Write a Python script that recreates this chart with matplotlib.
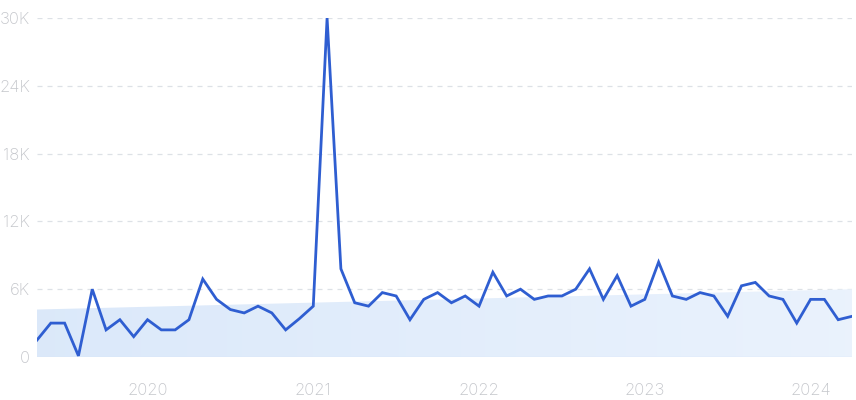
import numpy as np
import matplotlib
matplotlib.use("Agg")
import matplotlib.pyplot as plt
from matplotlib.patches import Polygon

plt.rcParams['font.family'] = ['Inter', 'DejaVu Sans']

# Monthly values, May 2019 .. Apr 2024
months = [f"{y}-{m:02d}" for y in range(2019, 2025) for m in range(1, 13)][4:64]
values = [1500, 3000, 3000, 100, 6000, 2400, 3300, 1800,
          3300, 2400, 2400, 3300, 6900, 5100, 4200, 3900, 4500, 3900, 2400, 3400,
          4500, 30000, 7800, 4800, 4500, 5700, 5400, 3300, 5100, 5700, 4800, 5400,
          4500, 7500, 5400, 6000, 5100, 5400, 5400, 6000, 7800, 5100, 7200, 4500,
          5100, 8400, 5400, 5100, 5700, 5400, 3600, 6300, 6600, 5400, 5100, 3000,
          5100, 5100, 3300, 3600]
trend_start = 4200
trend_end = 6000
year_labels = ["2020", "2021", "2022", "2023", "2024"]
y_ticks = [0, 6000, 12000, 18000, 24000, 30000]
y_tick_labels = ["0", "6K", "12K", "18K", "24K", "30K"]

x = np.arange(len(values))
fig = plt.figure(figsize=(8.56, 4.0), dpi=100)
ax = fig.add_axes([37/856, 1-357/400, (852-37)/856, (357-18)/400])
ax.set_xlim(0, len(values) - 1)
ax.set_ylim(0, 30000)

# gradient trend band
xe = len(values) - 1
poly = Polygon([(0, 0), (0, trend_start), (xe, trend_end), (xe, 0)], closed=True,
               facecolor='none', edgecolor='none')
ax.add_patch(poly)
c1 = np.array([0.860, 0.913, 0.980])
c2 = np.array([0.918, 0.950, 0.992])
t = np.linspace(0, 1, 256)
grad = (c1[None, :] * (1 - t[:, None]) + c2[None, :] * t[:, None])[None, :, :]
im = ax.imshow(grad, extent=[0, xe, 0, trend_end], aspect='auto', origin='lower',
               zorder=1, interpolation='bilinear')
im.set_clip_path(poly)
ax.plot([0, xe], [0, 0], color='#d6e4f8', lw=1, zorder=1.5)

for yt in y_ticks[1:]:
    ax.axhline(yt, color='#dde1e6', lw=0.9, ls=(0, (4, 4)), zorder=0.5)

ax.plot(x, values, color='#2f5ed1', lw=2.0, zorder=3, solid_joinstyle='miter')

for s in ax.spines.values():
    s.set_visible(False)
ax.set_yticks(y_ticks)
ax.set_yticklabels(y_tick_labels)
year_idx = [months.index(f"{y}-01") for y in year_labels]
ax.set_xticks(year_idx)
ax.set_xticklabels(year_labels)
ax.tick_params(length=0, colors='#c4c6cb', labelsize=12)
for lab in ax.get_xticklabels() + ax.get_yticklabels():
    lab.set_fontweight('light')
ax.tick_params(axis='y', pad=5)
ax.tick_params(axis='x', pad=19)
ax.grid(False)

fig.savefig("out.png", dpi=100)
